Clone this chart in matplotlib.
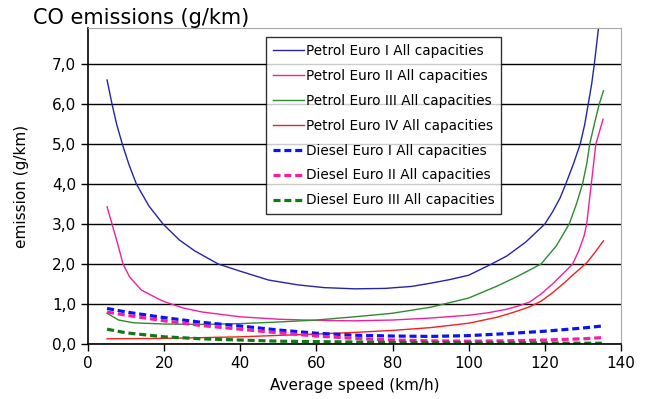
import matplotlib.pyplot as plt
from matplotlib.ticker import FuncFormatter

# speed (km/h) / CO (g/km) values
petrol1_speed = [5, 6.3, 7.5, 9, 10.7, 12.7, 16, 19.7, 24, 28, 34.2, 40, 47.4, 55, 62, 70, 78, 85, 90, 95, 100, 106, 110, 115, 120, 122, 124, 125.5, 127.5, 129.3, 130.5, 131.4, 132.3, 133, 134.1, 135]
petrol1_co = [6.6, 6.0, 5.5, 5.0, 4.5, 4.0, 3.45, 3.0, 2.6, 2.33, 2.0, 1.82, 1.6, 1.48, 1.41, 1.38, 1.39, 1.44, 1.52, 1.61, 1.72, 2.0, 2.2, 2.55, 3.0, 3.3, 3.65, 4.0, 4.5, 5.0, 5.5, 6.0, 6.5, 7.0, 7.9, 8.6]

petrol2_speed = [5, 6.3, 7.8, 9.2, 10.9, 14, 18.4, 20.3, 25, 30, 40, 50, 60, 70, 80, 90, 100, 105, 110, 113, 116, 119, 122, 125, 127.3, 129, 130.3, 131, 132.2, 133.4, 135.3]
petrol2_co = [3.43, 3.0, 2.5, 2.0, 1.68, 1.35, 1.13, 1.05, 0.9, 0.8, 0.68, 0.62, 0.59, 0.58, 0.6, 0.65, 0.72, 0.78, 0.87, 0.95, 1.05, 1.25, 1.5, 1.78, 2.0, 2.35, 2.7, 3.0, 4.0, 5.0, 5.62]

petrol3_speed = [5, 8, 12, 20, 30, 40, 50, 60, 70, 80, 90, 93.5, 100, 107.5, 113, 119, 123, 126.4, 128.3, 129.9, 131, 131.8, 133, 134.3, 135.4]
petrol3_co = [0.77, 0.6, 0.53, 0.5, 0.49, 0.51, 0.55, 0.6, 0.68, 0.77, 0.92, 1.0, 1.15, 1.45, 1.7, 2.0, 2.45, 3.0, 3.5, 4.0, 4.5, 5.0, 5.5, 6.0, 6.33]

petrol4_speed = [5, 20, 40, 60, 70, 80, 90, 100, 107.5, 112, 116, 119, 122, 125, 128, 131, 133, 135.4]
petrol4_co = [0.13, 0.14, 0.18, 0.25, 0.29, 0.34, 0.41, 0.52, 0.67, 0.8, 0.93, 1.07, 1.28, 1.52, 1.78, 2.03, 2.27, 2.58]

diesel_speed = [5, 10, 20, 30, 40, 50, 60, 70, 80, 90, 100, 110, 120, 130, 135]
diesel1_co = [0.89, 0.8, 0.66, 0.54, 0.45, 0.35, 0.27, 0.22, 0.2, 0.19, 0.21, 0.26, 0.32, 0.4, 0.45]
diesel2_co = [0.8, 0.72, 0.58, 0.46, 0.37, 0.28, 0.2, 0.14, 0.1, 0.08, 0.07, 0.08, 0.1, 0.13, 0.16]
diesel3_co = [0.37, 0.28, 0.18, 0.13, 0.1, 0.07, 0.06, 0.05, 0.04, 0.035, 0.03, 0.03, 0.025, 0.02, 0.02]

series = [
    ("Petrol Euro I All capacities", petrol1_speed, petrol1_co, "#2424A8", "-"),
    ("Petrol Euro II All capacities", petrol2_speed, petrol2_co, "#F41E9C", "-"),
    ("Petrol Euro III All capacities", petrol3_speed, petrol3_co, "#2E8A2E", "-"),
    ("Petrol Euro IV All capacities", petrol4_speed, petrol4_co, "#F42020", "-"),
    ("Diesel Euro I All capacities", diesel_speed, diesel1_co, "#0A14F0", "--"),
    ("Diesel Euro II All capacities", diesel_speed, diesel2_co, "#F41EA8", "--"),
    ("Diesel Euro III All capacities", diesel_speed, diesel3_co, "#107A18", "--"),
]

plt.rcParams['font.family'] = ['DejaVu Sans']

fig = plt.figure(figsize=(6.54, 3.99), dpi=100)
ax = fig.add_axes([0.1346, 0.1378, 0.8149, 0.792])

for label, xs, ys, color, style in series:
    if style == "-":
        ax.plot(xs, ys, color=color, lw=1.0, label=label)
    else:
        ax.plot(xs, ys, color=color, lw=2.3, ls=(0, (2.2, 1.2)), label=label)

ax.set_xlim(0, 140)
ax.set_ylim(0, 7.9)
ax.set_xticks(range(0, 141, 20))
ax.set_yticks(range(0, 8))
ax.yaxis.set_major_formatter(FuncFormatter(lambda v, p: f"{v:.1f}".replace(".", ",")))
ax.grid(axis='y', color='black', lw=1.0)
ax.set_axisbelow(True)
ax.tick_params(axis='both', direction='out', length=5, width=1, labelsize=11, colors='black')

for side in ('top', 'right'):
    ax.spines[side].set_color('#A8A8A8')
for side in ('left', 'bottom'):
    ax.spines[side].set_color('black')
    ax.spines[side].set_linewidth(1.2)

ax.set_xlabel("Average speed (km/h)", fontsize=11)
ax.xaxis.set_label_coords(0.5, -0.108)
ax.set_ylabel("emission (g/km)", fontsize=11)
ax.yaxis.set_label_coords(-0.11, 0.5)
fig.text(0.05, 0.955, "CO emissions (g/km)", fontsize=15, va='center', ha='left')

leg = ax.legend(loc='upper left', bbox_to_anchor=(0.334, 0.971), borderaxespad=0,
                fontsize=9.8, frameon=True, fancybox=False, edgecolor='black',
                handlelength=2.3, handletextpad=0.1, labelspacing=0.8,
                borderpad=0.5)
leg.get_frame().set_linewidth(1.0)

fig.savefig("out.png", dpi=100)
